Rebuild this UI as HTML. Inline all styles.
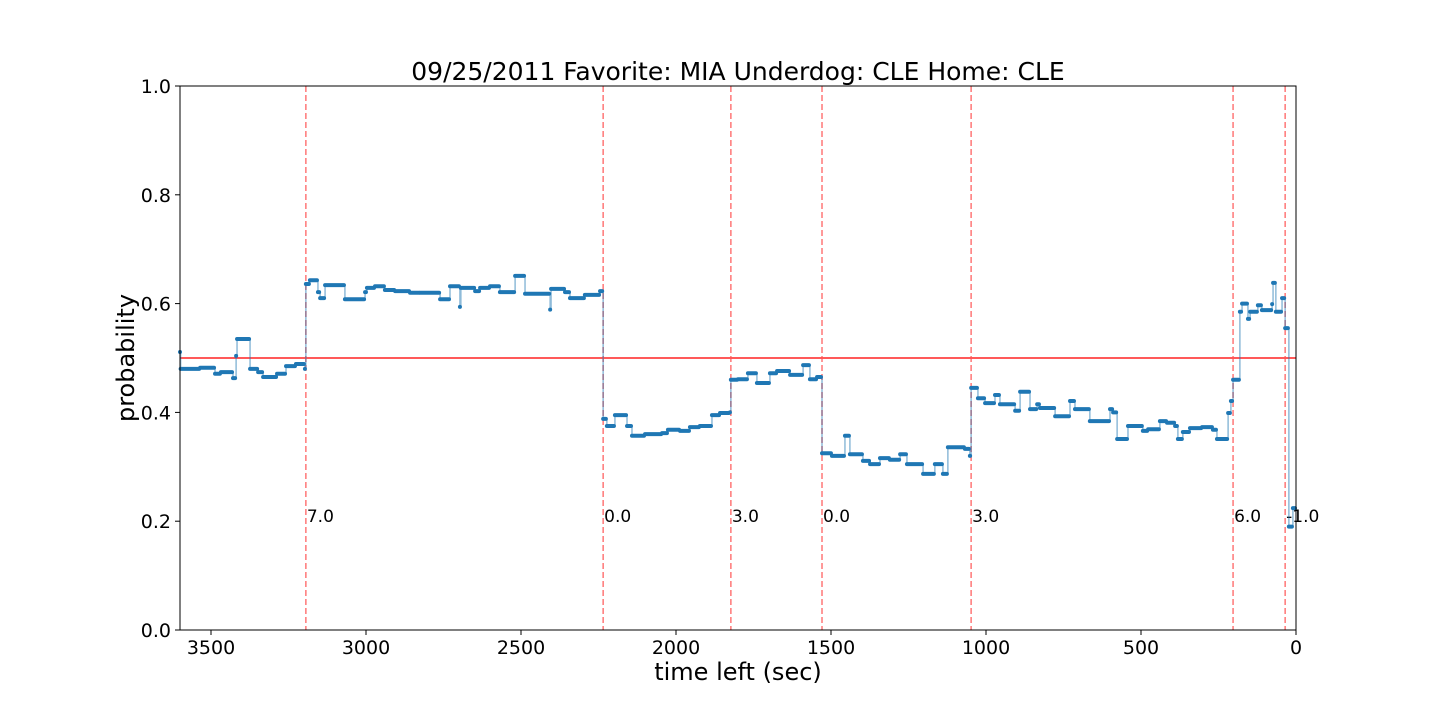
<!DOCTYPE html>
<html><head><meta charset="utf-8"><style>
body{margin:0;background:#fff;}
svg text{font-family:"DejaVu Sans","Liberation Sans",sans-serif;}
</style></head><body>
<svg id="chart" width="1440" height="720" xmlns="http://www.w3.org/2000/svg">
<rect width="1440" height="720" fill="#fff"/>
<text x="738" y="80" font-size="25" text-anchor="middle">09/25/2011 Favorite: MIA Underdog: CLE Home: CLE</text>
<g id="grid"></g>
<g id="marks"></g>
<rect x="180" y="86" width="1116" height="544" fill="none" stroke="#000" stroke-width="1"/>
<g id="axes"></g>
<text x="738" y="680" font-size="24" text-anchor="middle">time left (sec)</text>
<text x="134" y="358" font-size="24" text-anchor="middle" transform="rotate(-90 134 358)">probability</text>
</svg>
<script>
const times=[3600,3598,3535,3487,3468,3429,3419,3416,3374,3348,3332,3287,3258,3226,3197,3194,3181,3155,3148,3132,3068,3003,2997,2971,2939,2906,2858,2826,2761,2729,2697,2694,2648,2632,2600,2568,2519,2487,2406,2403,2358,2342,2294,2245,2235,2223,2197,2158,2142,2100,2045,2026,1987,1955,1923,1884,1858,1826,1823,1800,1768,1739,1697,1674,1632,1590,1568,1545,1529,1497,1455,1439,1397,1374,1342,1310,1277,1255,1203,1165,1139,1123,1068,1052,1048,1026,1003,971,955,906,890,858,835,826,777,729,713,665,600,590,577,542,494,477,439,416,390,381,365,342,303,268,255,219,210,203,181,174,155,148,123,110,77,74,65,45,35,23,10];
const probs=[0.511,0.48,0.482,0.471,0.474,0.463,0.504,0.535,0.48,0.474,0.465,0.471,0.485,0.489,0.48,0.636,0.643,0.621,0.61,0.634,0.608,0.621,0.629,0.632,0.625,0.623,0.62,0.62,0.608,0.632,0.594,0.629,0.623,0.629,0.632,0.621,0.651,0.618,0.589,0.627,0.621,0.61,0.616,0.623,0.388,0.375,0.395,0.375,0.357,0.36,0.362,0.368,0.366,0.373,0.375,0.395,0.399,0.40,0.46,0.461,0.472,0.454,0.472,0.476,0.469,0.487,0.461,0.465,0.325,0.32,0.357,0.323,0.311,0.305,0.316,0.313,0.323,0.305,0.287,0.305,0.287,0.336,0.333,0.32,0.445,0.426,0.417,0.432,0.415,0.403,0.438,0.406,0.415,0.408,0.393,0.421,0.406,0.384,0.406,0.40,0.351,0.375,0.366,0.369,0.384,0.381,0.375,0.351,0.364,0.371,0.373,0.368,0.351,0.399,0.421,0.46,0.585,0.6,0.572,0.585,0.597,0.588,0.599,0.638,0.585,0.61,0.555,0.19,0.224,0.19];
const eventTimes=[3194,2235,1823,1529,1048,203,35];
const eventLabels=["7.0","0.0","3.0","0.0","3.0","6.0","-1.0"];
const xTicks=[3500,3000,2500,2000,1500,1000,500,0];
const yTicks=[0.0,0.2,0.4,0.6,0.8,1.0];
const threshold=0.5;

const NS="http://www.w3.org/2000/svg";
const X=t=>1296-(t/3600)*1116;
const Y=p=>630-p*544;
function mk(tag,attrs,parent){const e=document.createElementNS(NS,tag);for(const k in attrs)e.setAttribute(k,attrs[k]);parent.appendChild(e);return e;}
const grid=document.getElementById('grid'),marks=document.getElementById('marks'),axes=document.getElementById('axes');

let l=mk('line',{x1:180,x2:1296,y1:Y(threshold),y2:Y(threshold),stroke:'#f22',"stroke-width":1.5},grid);



eventTimes.forEach((t,i)=>{
  const v=mk('line',{x1:X(t),x2:X(t),y1:86,y2:630,stroke:'#ff5555',"stroke-opacity":0.8,"stroke-width":1.5,"stroke-dasharray":"6,3"},grid);
  
  
  const tx=mk('text',{x:X(t)+1,y:522,"font-size":17},grid);
  tx.textContent=eventLabels[i];
  
  
});

let d='';
for(let i=0;i<times.length;i++){
  const x=X(times[i]),y=Y(probs[i]);
  const xn=i+1<times.length?X(times[i+1]):X(0);
  d+=(i?'L':'M')+x+','+y+'L'+xn+','+y;
}
const sp=mk('path',{d:d,fill:'none',stroke:'#1f77b4',"stroke-opacity":0.5,"stroke-width":1.5},marks);


for(let i=0;i<times.length;i++){
  const x=X(times[i]),y=Y(probs[i]);
  const xn=i+1<times.length?X(times[i+1]):X(0);
  const s=mk('line',{x1:x,x2:Math.max(x,xn-1),y1:y,y2:y,stroke:'#1f77b4',"stroke-width":4,"stroke-linecap":"round"},marks);
  
  
}

xTicks.forEach(t=>{
  const x=X(t);
  const tk=mk('line',{x1:x,x2:x,y1:630,y2:635,stroke:'#000'},axes);
  
  
  const tx=mk('text',{x:x,y:654,"font-size":19,"text-anchor":"middle"},axes);
  tx.textContent=String(t);
  
  
});
yTicks.forEach(p=>{
  const y=Y(p);
  const tk=mk('line',{x1:175,x2:180,y1:y,y2:y,stroke:'#000'},axes);
  
  
  const tx=mk('text',{x:171,y:y+7,"font-size":19,"text-anchor":"end"},axes);
  tx.textContent=p.toFixed(1);
  
  
});
</script>
</body></html>
